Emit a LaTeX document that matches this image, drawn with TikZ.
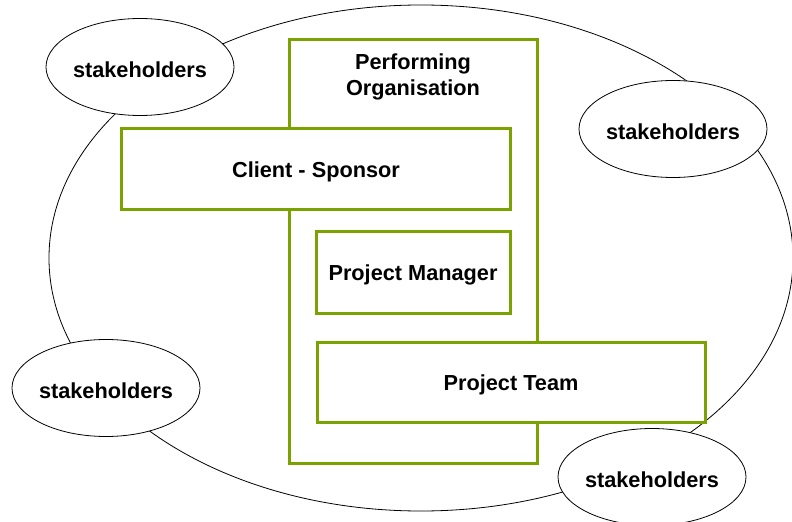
\documentclass[tikz,border=0pt]{standalone}
\usepackage{fontspec}
\setmainfont{Liberation Sans}
\usetikzlibrary{shapes.geometric}
\definecolor{pmgreen}{RGB}{122,162,0}
\begin{document}
\begin{tikzpicture}[x=1bp,y=-1bp,
  every node/.style={inner sep=0pt, outer sep=0pt},
  lbl/.style={font=\fontsize{21.8}{26}\selectfont\bfseries, yshift=-2.5bp},
  bigoval/.style={draw=black, line width=0.8bp, ellipse, minimum width=744bp, minimum height=506bp},
  stake/.style={draw=black, fill=white, line width=0.8bp, ellipse, minimum width=188bp, minimum height=97bp},
  gbox/.style={draw=pmgreen, fill=white, line width=3bp, rectangle}
]
\useasboundingbox (0,0) rectangle (792,522);
\node[bigoval] (world) at (421,258) {};
\node[stake] (s1) at (140,67) {};
\node[lbl] (s1t) at (s1.center) {stakeholders};
\node[stake] (s2) at (673,129) {};
\node[lbl] (s2t) at (s2.center) {stakeholders};
\node[stake] (s3) at (106,388) {};
\node[lbl] (s3t) at (s3.center) {stakeholders};
\node[stake] (s4) at (652,477) {};
\node[lbl] (s4t) at (s4.center) {stakeholders};
\node[gbox, minimum width=248bp, minimum height=423bp] (org) at (413,251.5) {};
\node[lbl, align=center] (orgtxt) at (413,74) {Performing\\Organisation};
\node[gbox, minimum width=388bp, minimum height=81bp] (client) at (316,169.5) {};
\node[lbl] (clientt) at (client.center) {Client - Sponsor};
\node[gbox, minimum width=194bp, minimum height=81bp] (pm) at (413,272.5) {};
\node[lbl] (pmt) at (pm.center) {Project Manager};
\node[gbox, minimum width=388bp, minimum height=80bp] (team) at (511,382) {};
\node[lbl] (teamt) at (team.center) {Project Team};
\end{tikzpicture}
\end{document}
